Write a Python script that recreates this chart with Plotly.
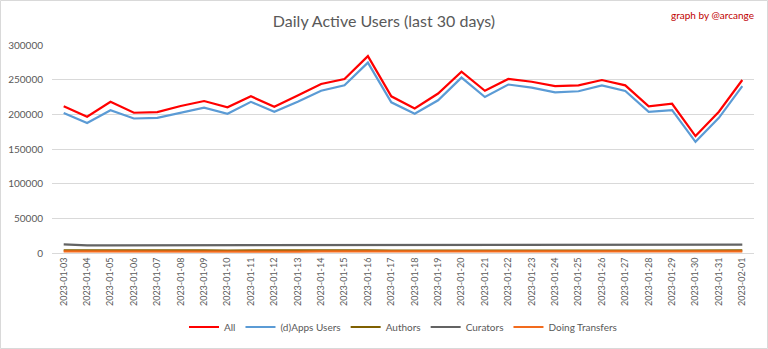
import plotly.graph_objects as go

dates = ["2023-01-03","2023-01-04","2023-01-05","2023-01-06","2023-01-07","2023-01-08",
         "2023-01-09","2023-01-10","2023-01-11","2023-01-12","2023-01-13","2023-01-14",
         "2023-01-15","2023-01-16","2023-01-17","2023-01-18","2023-01-19","2023-01-20",
         "2023-01-21","2023-01-22","2023-01-23","2023-01-24","2023-01-25","2023-01-26",
         "2023-01-27","2023-01-28","2023-01-29","2023-01-30","2023-01-31","2023-02-01"]

all_users = [211500,196500,218200,202300,203300,212000,219200,210100,226000,211000,
             227000,243700,251000,284000,226000,208600,230000,261500,234000,251000,
             247000,240800,241800,249500,241800,211500,215300,168700,203700,249500]

apps_users = [202000,187500,206000,194000,195000,202000,209500,200800,218000,203700,
              218000,234000,241800,274600,217300,200800,220300,253000,225000,243000,
              238500,231800,233300,241800,233700,203700,206000,160300,195000,240800]

authors = [3800,3600,3700,3500,3400,3600,3700,3600,3800,3500,
           3600,3700,3700,3900,3600,3500,3600,3800,3600,3700,
           3700,3600,3600,3700,3600,3400,3500,3300,3500,3700]

curators = [12500,11000,11000,11000,11000,12000,12000,12000,12000,11000,
            11000,11000,12000,12000,12000,12000,12000,11000,11000,12000,
            12000,12000,12000,11000,11000,11000,12000,12000,12000,12000]

transfers = [2200,2100,2200,2100,2000,2100,2200,2100,2200,2100,
             2100,2200,2200,2300,2100,2000,2100,2200,2100,2200,
             2200,2100,2100,2200,2100,2000,2100,1900,2000,2200]

series = [
    ("All", all_users, "#FF0000"),
    ("(d)Apps Users", apps_users, "#5B9BD5"),
    ("Authors", authors, "#7F6000"),
    ("Curators", curators, "#636363"),
    ("Doing Transfers", transfers, "#F26B1D"),
]

fig = go.Figure()
for name, vals, color in series:
    fig.add_trace(go.Scatter(x=dates, y=vals, name=name, mode="lines",
                             line=dict(color=color, width=2.2)))

font_family = "Lato, 'Open Sans', sans-serif"
fig.update_layout(
    width=768, height=349,
    margin=dict(l=52, r=14, t=45, b=96, autoexpand=False),
    paper_bgcolor="white", plot_bgcolor="white",
    font=dict(family=font_family, color="#595959", size=10),
    title=dict(text="Daily Active Users (last 30 days)", x=0.5, xanchor="center",
               y=1 - 21/349, yanchor="middle",
               font=dict(size=16, color="#595959", family=font_family)),
    showlegend=True,
    legend=dict(orientation="h", x=0.5, xanchor="center", y=1 - 327/349, yref="container",
                yanchor="middle", font=dict(size=10, color="#595959"),
                traceorder="normal", itemwidth=30, tracegroupgap=0),
    annotations=[dict(text="graph by @arcange", xref="paper", yref="paper",
                      x=1 + 2/702, y=1 + 30/208, xanchor="right", yanchor="middle",
                      showarrow=False, font=dict(size=10, color="#C00000", family=font_family))],
    shapes=[dict(type="rect", xref="paper", yref="paper",
                 x0=-52/702 + 0.5/702, x1=1 + 13.5/702, y0=-96/208 + 0.5/208, y1=1 + 44.5/208,
                 line=dict(color="#D9D9D9", width=1), fillcolor="rgba(0,0,0,0)", layer="below")],
)
fig.update_xaxes(type="category", range=[-0.5, 29.5], tickangle=-90, automargin=False,
                 showgrid=False, showline=True, linecolor="#D9D9D9", linewidth=1,
                 ticks="", tickfont=dict(size=9, color="#595959"))
fig.update_yaxes(range=[0, 300000], dtick=50000, tickformat="d", automargin=False,
                 showgrid=True, gridcolor="#D9D9D9", gridwidth=1, zeroline=False,
                 showline=False, ticks="", ticklen=0, ticklabelstandoff=8,
                 tickfont=dict(size=10, color="#595959"))

fig.write_html("out.html")
